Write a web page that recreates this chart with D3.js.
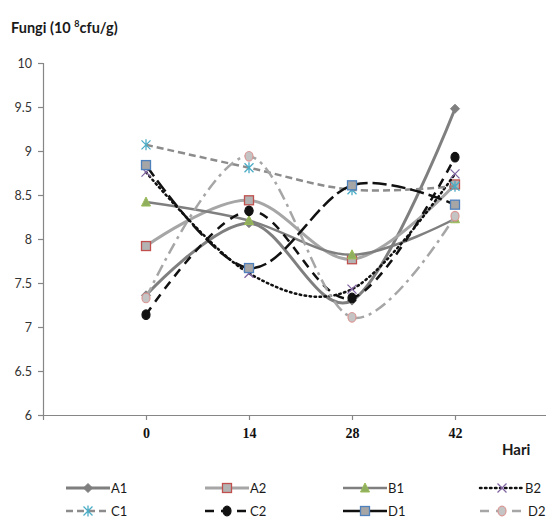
<!DOCTYPE html>
<html>
<head>
<meta charset="utf-8">
<script src="https://cdn.jsdelivr.net/npm/d3@7"></script>
<style>
  html, body { margin: 0; padding: 0; background: #fff; }
  svg { display: block; }
</style>
</head>
<body>
<svg id="chart" width="546" height="520"></svg>
<script>
// Sampling days and fungal counts (log10 cfu/g) per treatment
const days = [0, 14, 28, 42];
const yTicks = [6, 6.5, 7, 7.5, 8, 8.5, 9, 9.5, 10];
const seriesNames = ["A1", "A2", "B1", "B2", "C1", "C2", "D1", "D2"];
const A1 = [7.36, 8.18, 7.30, 9.48];
const A2 = [7.92, 8.44, 7.77, 8.62];
const B1 = [8.42, 8.21, 7.82, 8.23];
const B2 = [8.76, 7.61, 7.43, 8.74];
const C1 = [9.07, 8.81, 8.56, 8.60];
const C2 = [7.14, 8.32, 7.33, 8.93];
const D1 = [8.84, 7.67, 8.61, 8.39];
const D2 = [7.33, 8.94, 7.11, 8.26];
const values = { A1, A2, B1, B2, C1, C2, D1, D2 };

// Line and marker styling per treatment
const styles = {
  A1: { stroke: "#7f7f7f", width: 3,   dash: null,        legendDash: null,    marker: "diamond",  fill: "#7f7f7f", mstroke: "#7f7f7f" },
  A2: { stroke: "#a6a6a6", width: 3,   dash: null,        legendDash: null,    marker: "square",   fill: "#b3b3b3", mstroke: "#c0504d" },
  B1: { stroke: "#7f7f7f", width: 2.5, dash: null,        legendDash: null,    marker: "triangle", fill: "#8faf5e", mstroke: "#9bbb59" },
  B2: { stroke: "#111",    width: 2.5, dash: "1.5,3.5",   legendDash: "1.5,3.5", marker: "cross",  fill: "none",    mstroke: "#8064a2" },
  C1: { stroke: "#8c8c8c", width: 2.5, dash: "7,4",       legendDash: "7,4",   marker: "asterisk", fill: "none",    mstroke: "#4bacc6" },
  C2: { stroke: "#111",    width: 2.5, dash: "9,7",       legendDash: "9,7",   marker: "circle",   fill: "#111",    mstroke: "#111" },
  D1: { stroke: "#111",    width: 2.5, dash: "14,5",      legendDash: null,    marker: "square",   fill: "#a6a6a6", mstroke: "#4f81bd" },
  D2: { stroke: "#a6a6a6", width: 2.5, dash: "12,5,3,5",  legendDash: "9,7",   marker: "circle",   fill: "#c4c4c4", mstroke: "#d99694" }
};

const svg = d3.select("#chart");

const x = d3.scaleLinear().domain([-14, 56]).range([43, 558]);
const y = d3.scaleLinear().domain([6, 10]).range([415, 63]);

// Title
const title = svg.append("text")
  .attr("x", 11).attr("y", 33)
  .attr("font-family", "Lato, 'Open Sans', sans-serif")
  .attr("font-weight", "bold").attr("font-size", 14.5)
  .attr("fill", "#1a1a1a");
title.append("tspan").text("Fungi (10 ");
title.append("tspan").attr("font-size", 9).attr("dy", -6).text("8");
title.append("tspan").attr("dy", 6).text("cfu/g)");

// Y axis
const yAxis = svg.append("g")
  .attr("transform", `translate(${x(-14)},0)`)
  .call(d3.axisLeft(y).tickValues(yTicks).tickSize(5).tickPadding(6)
    .tickFormat(d => String(d)));
yAxis.select(".domain").attr("stroke", "#868686").attr("stroke-width", 1.2);
yAxis.selectAll(".tick line").attr("stroke", "#868686").attr("stroke-width", 1.2);
yAxis.selectAll(".tick text")
  .attr("font-family", "Lato, 'Open Sans', sans-serif")
  .attr("font-size", 12.5).attr("fill", "#333");

// X axis
const xAxis = svg.append("g")
  .attr("transform", `translate(0,${y(6)})`)
  .call(d3.axisBottom(x).tickValues(days).tickSize(5).tickPadding(8)
    .tickFormat(d => String(d)));
xAxis.select(".domain").attr("stroke", "#868686").attr("stroke-width", 1.2);
xAxis.selectAll(".tick line").attr("stroke", "#868686").attr("stroke-width", 1.2);
xAxis.selectAll(".tick text")
  .attr("font-family", "'Liberation Serif', 'Times New Roman', serif")
  .attr("font-weight", "bold").attr("font-size", 14).attr("fill", "#111");

svg.append("text")
  .attr("x", 502).attr("y", 455)
  .attr("font-family", "Lato, 'Open Sans', sans-serif")
  .attr("font-weight", "bold").attr("font-size", 15)
  .attr("fill", "#1a1a1a")
  .text("Hari");

// Marker drawing
function drawMarker(g, type, cx, cy, st) {
  const s = 4.5;
  if (type === "diamond") {
    g.append("path").attr("d", `M${cx},${cy - s}L${cx + s},${cy}L${cx},${cy + s}L${cx - s},${cy}Z`)
      .attr("fill", st.fill).attr("stroke", st.mstroke).attr("stroke-width", 1);
  } else if (type === "square") {
    g.append("rect").attr("x", cx - s).attr("y", cy - s).attr("width", 2 * s).attr("height", 2 * s)
      .attr("fill", st.fill).attr("stroke", st.mstroke).attr("stroke-width", 1.3);
  } else if (type === "triangle") {
    g.append("path").attr("d", `M${cx},${cy - s - 0.5}L${cx + s},${cy + s - 0.5}L${cx - s},${cy + s - 0.5}Z`)
      .attr("fill", st.fill).attr("stroke", st.mstroke).attr("stroke-width", 1);
  } else if (type === "circle") {
    g.append("ellipse").attr("cx", cx).attr("cy", cy).attr("rx", s - 0.5).attr("ry", s + 0.3)
      .attr("fill", st.fill).attr("stroke", st.mstroke).attr("stroke-width", 1.2);
  } else if (type === "cross") {
    g.append("path").attr("d", `M${cx - s},${cy - s}L${cx + s},${cy + s}M${cx + s},${cy - s}L${cx - s},${cy + s}`)
      .attr("stroke", st.mstroke).attr("stroke-width", 1.3).attr("fill", "none");
  } else if (type === "asterisk") {
    g.append("path").attr("d",
      `M${cx - s},${cy - s}L${cx + s},${cy + s}M${cx + s},${cy - s}L${cx - s},${cy + s}M${cx},${cy - s - 1}L${cx},${cy + s + 1}`)
      .attr("stroke", st.mstroke).attr("stroke-width", 1.3).attr("fill", "none");
  }
}

// Smoothed series lines with markers
const line = d3.line()
  .x(d => x(d[0]))
  .y(d => y(d[1]))
  .curve(d3.curveCardinal.tension(0));

const plot = svg.append("g");
seriesNames.forEach(name => {
  const st = styles[name];
  const pts = days.map((d, i) => [d, values[name][i]]);
  const g = plot.append("g");
  g.append("path")
    .attr("d", line(pts))
    .attr("fill", "none")
    .attr("stroke", st.stroke)
    .attr("stroke-width", st.width)
    .attr("stroke-dasharray", st.dash)
    .attr("stroke-linecap", st.marker === "cross" ? "round" : "butt");
  pts.forEach(p => drawMarker(g, st.marker, x(p[0]), y(p[1]), st));
});

// Legend
const legendCols = [66, 205, 343, 480];
const legendRows = [488, 511];
seriesNames.forEach((name, i) => {
  const st = styles[name];
  const lx = legendCols[i % 4];
  const ly = legendRows[Math.floor(i / 4)];
  const g = svg.append("g");
  g.append("line")
    .attr("x1", lx).attr("x2", lx + 44)
    .attr("y1", ly).attr("y2", ly)
    .attr("stroke", st.stroke).attr("stroke-width", st.width)
    .attr("stroke-dasharray", st.legendDash)
    .attr("stroke-linecap", st.marker === "cross" ? "round" : "butt");
  drawMarker(g, st.marker, lx + 22, ly, st);
  g.append("text")
    .attr("x", lx + (name === "D2" ? 48 : 45)).attr("y", ly + 5)
    .attr("font-family", "Lato, 'Open Sans', sans-serif")
    .attr("font-size", 13).attr("fill", "#1a1a1a")
    .text(name);
});
</script>
</body>
</html>
